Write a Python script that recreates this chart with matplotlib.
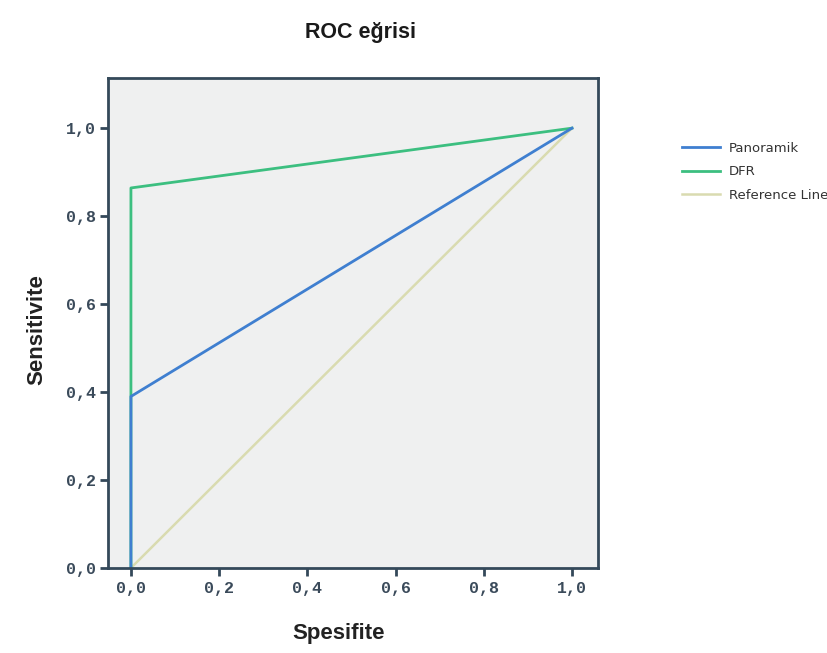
import matplotlib
matplotlib.use("Agg")
import matplotlib.pyplot as plt
from matplotlib.ticker import FuncFormatter

# Data
pan_x = [0.0, 0.0, 1.0]
pan_y = [0.0, 0.39, 1.0]
dfr_x = [0.0, 0.0, 1.0]
dfr_y = [0.0, 0.864, 1.0]
ref_x = [0.0, 1.0]
ref_y = [0.0, 1.0]
ticks = [0.0, 0.2, 0.4, 0.6, 0.8, 1.0]
labels = ["Panoramik", "DFR", "Reference Line"]

fig = plt.figure(figsize=(8.27, 6.53), dpi=100)
ax = fig.add_axes([108/827, 1-568/653, (598-108)/827, (568-78)/653])
ax.set_facecolor("#eff0f0")

l3, = ax.plot(ref_x, ref_y, color="#d9dbb0", lw=1.8, label=labels[2])
l2, = ax.plot(dfr_x, dfr_y, color="#3cbf80", lw=2.0, label=labels[1])
l1, = ax.plot(pan_x, pan_y, color="#3f7fd0", lw=2.0, label=labels[0])

ax.set_xlim(-0.052, 1.059)
ax.set_ylim(0.0, 1.114)
ax.set_xticks(ticks)
ax.set_yticks(ticks)
fmt = FuncFormatter(lambda v, p: f"{v:.1f}".replace(".", ","))
ax.xaxis.set_major_formatter(fmt)
ax.yaxis.set_major_formatter(fmt)
for lab in ax.get_xticklabels() + ax.get_yticklabels():
    lab.set_family("Liberation Mono")
    lab.set_fontsize(12)
    lab.set_fontweight("bold")
    lab.set_color("#3a4a5a")
ax.tick_params(axis="both", direction="out", length=6, width=2, color="#34495a", pad=3)
for s in ax.spines.values():
    s.set_color("#34495a")
    s.set_linewidth(2)

ax.set_title("ROC eğrisi", fontsize=15.5, fontweight="bold", family="Liberation Sans",
             color="#1a1a1a", pad=29, x=0.516)
ax.set_xlabel("Spesifite", fontsize=16, fontweight="bold", family="Liberation Sans",
              color="#222222")
ax.xaxis.set_label_coords(0.471, -0.112)
ax.set_ylabel("Sensitivite", fontsize=16, fontweight="bold", family="Liberation Sans",
              color="#222222")
ax.yaxis.set_label_coords(-0.124, 0.486)

leg = fig.legend(handles=[l1, l2, l3], labels=labels, loc="upper left",
                 bbox_to_anchor=(682/827, 1-142/653), frameon=False,
                 borderpad=0, borderaxespad=0,
                 fontsize=9.5, handlelength=2.9, labelspacing=0.78, handletextpad=0.65)
for t in leg.get_texts():
    t.set_color("#333333")
    t.set_family("Liberation Sans Narrow")

fig.savefig("out.png", dpi=100)
